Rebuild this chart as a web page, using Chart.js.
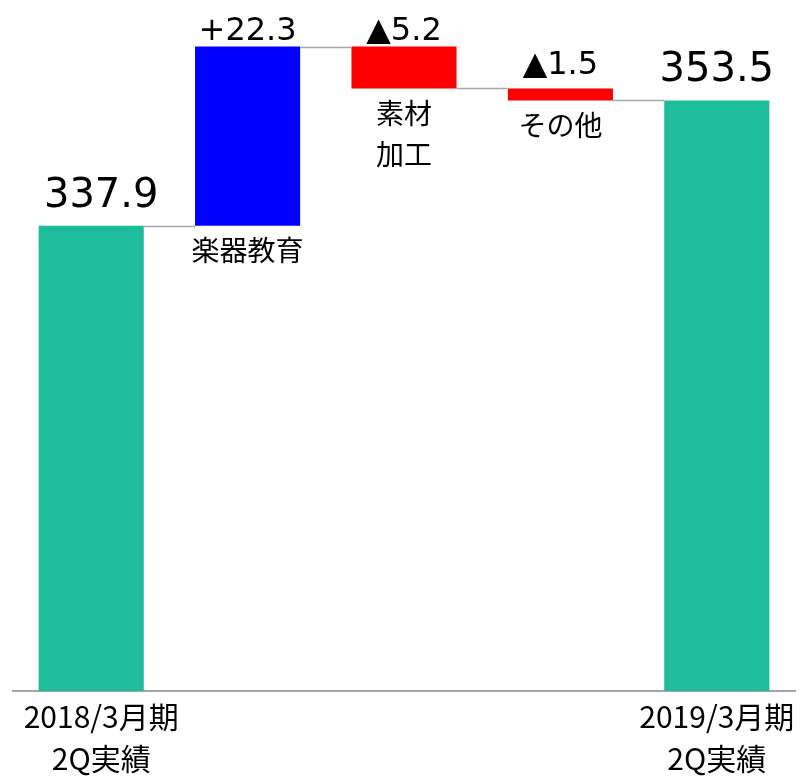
<!DOCTYPE html>
<html lang="ja">

<head>
    <meta charset="UTF-8" />
    <script src="https://cdn.jsdelivr.net/npm/chart.js@4.4.1/dist/chart.umd.min.js"></script>
    <style>
        body { margin: 0; background: #fff; }
    </style>
</head>

<body>
    <canvas id="chart" width="801" height="776"></canvas>
    <script>
        // 売上高 増減（億円）
        const categories = ['2018/3月期 2Q実績', '楽器教育', '素材加工', 'その他', '2019/3月期 2Q実績'];
        const tickLabels = [['2018/3月期', '2Q実績'], null, null, null, ['2019/3月期', '2Q実績']];
        const innerLabels = [null, ['楽器教育'], ['素材', '加工'], ['その他'], null];
        const startTotal = 337.9;
        const changes = [22.3, -5.2, -1.5];
        const endTotal = 353.5;
        const valueLabels = ['337.9', '+22.3', '▲5.2', '▲1.5', '353.5'];

        const TEAL = '#1DBD9C';
        const BLUE = '#0000FF';
        const RED = '#FF0000';
        const AXIS_MIN = 280;

        // floating bars [from, to]
        const ranges = [[AXIS_MIN, startTotal]];
        let running = startTotal;
        changes.forEach(d => {
            ranges.push([running, running + d]);
            running += d;
        });
        ranges.push([AXIS_MIN, endTotal]);
        const colors = [TEAL, ...changes.map(d => d >= 0 ? BLUE : RED), TEAL];

        // label tweaks per column (px)
        const labelGap = [19, 7, 7, 14, 19];
        const labelShift = [10, 0, 0, 0, 0];
        const labelFont = ['40px "DejaVu Sans"', '32px "DejaVu Sans"', '32px "DejaVu Sans"', '32px "DejaVu Sans"', '40px "DejaVu Sans"'];

        const waterfallDecor = {
            id: 'waterfallDecor',
            afterDatasetsDraw(chart) {
                const ctx = chart.ctx;
                const meta = chart.getDatasetMeta(0);
                const y = chart.scales.y;
                const area = chart.chartArea;
                ctx.save();

                // connectors
                ctx.strokeStyle = '#A6A6A6';
                ctx.lineWidth = 1.5;
                for (let i = 0; i < meta.data.length - 1; i++) {
                    const a = meta.data[i], b = meta.data[i + 1];
                    const py = Math.round(y.getPixelForValue(ranges[i][1])) + 0.5;
                    ctx.beginPath();
                    ctx.moveTo(a.x + a.width / 2, py);
                    ctx.lineTo(b.x - b.width / 2, py);
                    ctx.stroke();
                }

                // values above bars
                ctx.fillStyle = '#000';
                ctx.textAlign = 'center';
                ctx.textBaseline = 'alphabetic';
                meta.data.forEach((bar, i) => {
                    const top = y.getPixelForValue(Math.max(...ranges[i]));
                    ctx.font = labelFont[i];
                    ctx.fillText(valueLabels[i], bar.x + labelShift[i], top - labelGap[i]);
                });

                // category names under change bars
                ctx.font = '28px "Noto Sans CJK JP"';
                ctx.textBaseline = 'middle';
                meta.data.forEach((bar, i) => {
                    if (!innerLabels[i]) return;
                    const bottom = y.getPixelForValue(Math.min(...ranges[i]));
                    innerLabels[i].forEach((line, k) => {
                        ctx.fillText(line, bar.x, bottom + 25 + k * 41);
                    });
                });

                // period labels under the axis
                ctx.font = '30px "Noto Sans CJK JP"';
                meta.data.forEach((bar, i) => {
                    if (!tickLabels[i]) return;
                    tickLabels[i].forEach((line, k) => {
                        ctx.fillText(line, bar.x + labelShift[i], area.bottom + 26 + k * 42);
                    });
                });
                ctx.restore();
            }
        };

        const ctx = document.getElementById('chart').getContext('2d');
        new Chart(ctx, {
            type: 'bar',
            data: {
                labels: categories,
                datasets: [{
                    data: ranges,
                    backgroundColor: colors,
                    borderWidth: 0,
                    barPercentage: 1,
                    categoryPercentage: 0.672
                }]
            },
            options: {
                responsive: false,
                animation: false,
                layout: { padding: { left: 13, right: 6, top: 0, bottom: 0 } },
                plugins: {
                    legend: { display: false },
                    tooltip: { enabled: false }
                },
                scales: {
                    x: {
                        grid: { display: false, drawTicks: false },
                        border: { display: true, color: '#A6A6A6', width: 2 },
                        ticks: { display: false },
                        afterFit: s => { s.height = 85; }
                    },
                    y: {
                        display: false,
                        min: AXIS_MIN,
                        max: 366
                    }
                }
            },
            plugins: [waterfallDecor]
        });
    </script>
</body>

</html>
